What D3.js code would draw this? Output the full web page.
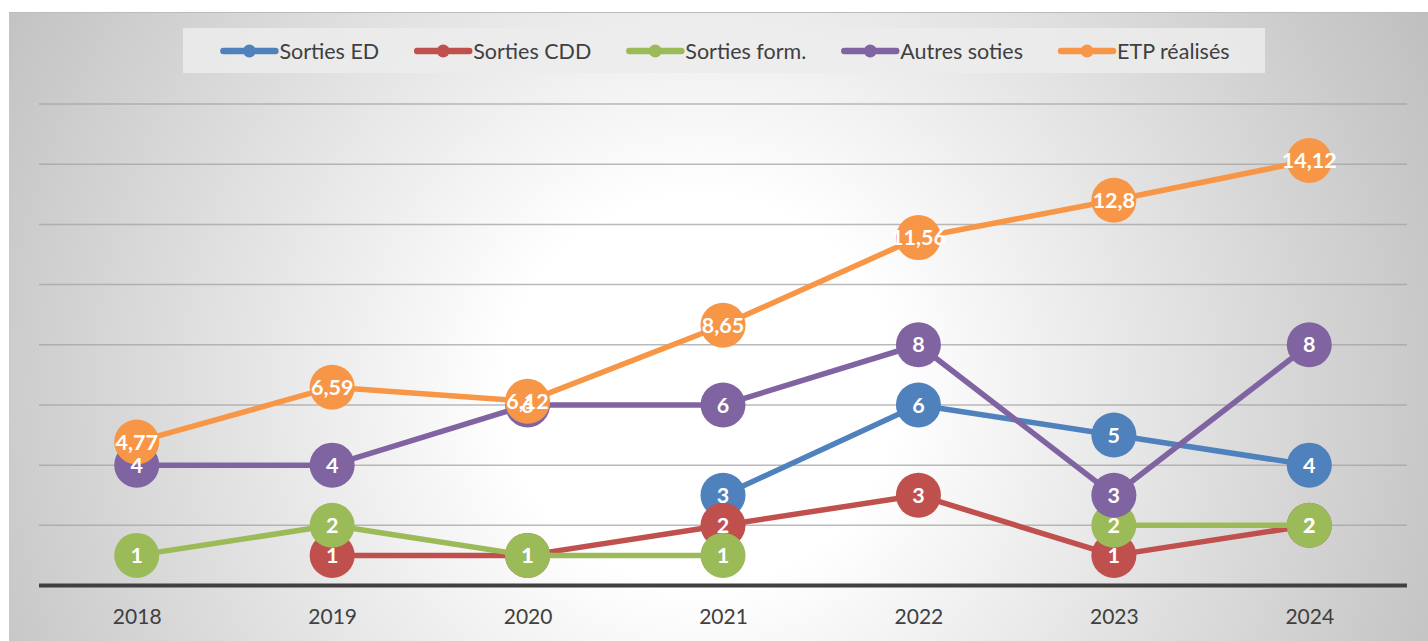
<!DOCTYPE html>
<html lang="fr">
<head>
    <meta charset="UTF-8">
    <title>Sorties et ETP réalisés 2018-2024</title>
    <script src="https://d3js.org/d3.v7.min.js"></script>
    <style>
        body { margin: 0; background: #fff; }
        svg { display: block; font-family: Lato, "Open Sans", sans-serif; }
    </style>
</head>
<body>
    <div id="chart"></div>

    <script>
        // data (null = no point that year)
        var years = ["2018", "2019", "2020", "2021", "2022", "2023", "2024"];
        var sortiesED   = [null, null, null, 3, 6, 5, 4];
        var sortiesCDD  = [null, 1, 1, 2, 3, 1, 2];
        var sortiesForm = [1, 2, 1, 1, null, 2, 2];
        var autresSoties = [4, 4, 6, 6, 8, 3, 8];
        var etpRealises = [4.77, 6.59, 6.12, 8.65, 11.56, 12.8, 14.12];
        var gridTicks = [2, 4, 6, 8, 10, 12, 14, 16];

        var series = [
            {name: "Sorties ED", values: sortiesED, color: "#4f81bd"},
            {name: "Sorties CDD", values: sortiesCDD, color: "#c0504d"},
            {name: "Sorties form.", values: sortiesForm, color: "#9bbb59"},
            {name: "Autres soties", values: autresSoties, color: "#8064a2"},
            {name: "ETP réalisés", values: etpRealises, color: "#f79646"}
        ];

        var W = 1428, H = 641;
        var plot = {left: 39, right: 1407, top: 104, bottom: 585.5};

        var svg = d3.select("#chart").append("svg")
            .attr("width", W)
            .attr("height", H);

        // radial grey background like the office chart
        var defs = svg.append("defs");
        var grad = defs.append("radialGradient")
            .attr("id", "bg")
            .attr("gradientUnits", "userSpaceOnUse")
            .attr("cx", 700).attr("cy", 390).attr("r", 880);
        grad.append("stop").attr("offset", "0%").attr("stop-color", "#ffffff");
        grad.append("stop").attr("offset", "22%").attr("stop-color", "#ffffff");
        grad.append("stop").attr("offset", "100%").attr("stop-color", "#b9b9b9");

        svg.append("rect")
            .attr("x", 9).attr("y", 12)
            .attr("width", W - 9).attr("height", H - 12)
            .attr("fill", "url(#bg)");
        svg.append("line")
            .attr("x1", 9).attr("x2", W).attr("y1", 12.5).attr("y2", 12.5)
            .attr("stroke", "#bcbcbc").attr("stroke-width", 1);

        var x = d3.scalePoint()
            .domain(years)
            .range([plot.left, plot.right])
            .padding(0.5);

        var y = d3.scaleLinear()
            .domain([0, 16])
            .range([plot.bottom, plot.top]);

        // gridlines
        svg.append("g")
            .selectAll("line")
            .data(gridTicks)
            .enter().append("line")
                .attr("x1", plot.left).attr("x2", plot.right)
                .attr("y1", function(d) { return y(d); })
                .attr("y2", function(d) { return y(d); })
                .attr("stroke", "#a3a3a3")
                .attr("stroke-opacity", 0.75)
                .attr("stroke-width", 1.5);

        // x axis
        var xAxis = svg.append("g")
            .attr("transform", "translate(0," + y(0) + ")")
            .call(d3.axisBottom(x).tickSize(0).tickPadding(24));
        xAxis.select(".domain")
            .attr("d", "M" + plot.left + ",0H" + plot.right)
            .attr("stroke", "#404040")
            .attr("stroke-width", 4);
        xAxis.selectAll("text")
            .attr("font-family", "Lato, 'Open Sans', sans-serif")
            .attr("font-size", 21)
            .attr("fill", "#404040");

        var line = d3.line()
            .defined(function(d) { return d != null; })
            .x(function(d, i) { return x(years[i]); })
            .y(function(d) { return y(d); });

        function pts(s) {
            return s.values.map(function(v, i) { return {year: years[i], value: v}; })
                .filter(function(d) { return d.value != null; });
        }

        // lines + markers, one series after the other
        series.forEach(function(s) {
            var g = svg.append("g");
            g.append("path")
                .datum(s.values)
                .attr("d", line)
                .attr("fill", "none")
                .attr("stroke", s.color)
                .attr("stroke-width", 5.5)
                .attr("stroke-linejoin", "round");
            g.selectAll("circle")
                .data(pts(s))
                .enter().append("circle")
                    .attr("cx", function(d) { return x(d.year); })
                    .attr("cy", function(d) { return y(d.value); })
                    .attr("r", 22.5)
                    .attr("fill", s.color);
        });

        // data labels on top of everything
        series.forEach(function(s) {
            svg.append("g")
                .selectAll("text")
                .data(pts(s))
                .enter().append("text")
                    .attr("x", function(d) { return x(d.year); })
                    .attr("y", function(d) { return y(d.value); })
                    .attr("dy", "0.36em")
                    .attr("text-anchor", "middle")
                    .attr("font-size", 21.5)
                    .attr("font-weight", "bold")
                    .attr("fill", "#fff")
                    .text(function(d) { return String(d.value).replace(".", ","); });
        });

        // legend
        svg.append("rect")
            .attr("x", 183).attr("y", 28)
            .attr("width", 1082).attr("height", 45)
            .attr("fill", "#ececec")
            .attr("fill-opacity", 0.85);

        var leg = svg.append("g");
        var cursor = 0;
        series.forEach(function(s) {
            var item = leg.append("g").attr("transform", "translate(" + cursor + ",0)");
            item.append("line")
                .attr("x1", 3).attr("x2", 55)
                .attr("stroke", s.color)
                .attr("stroke-width", 6.5)
                .attr("stroke-linecap", "round");
            item.append("circle")
                .attr("cx", 29).attr("r", 6.5)
                .attr("fill", s.color);
            var t = item.append("text")
                .attr("x", 59)
                .attr("dy", "0.35em")
                .attr("font-size", 21.5)
                .attr("fill", "#404040")
                .text(s.name);
            cursor += 59 + t.node().getComputedTextLength() + 35;
        });
        var legWidth = cursor - 35;
        leg.attr("transform", "translate(" + (184 + (1082 - legWidth) / 2) + ",51)");
    </script>
</body>
</html>
